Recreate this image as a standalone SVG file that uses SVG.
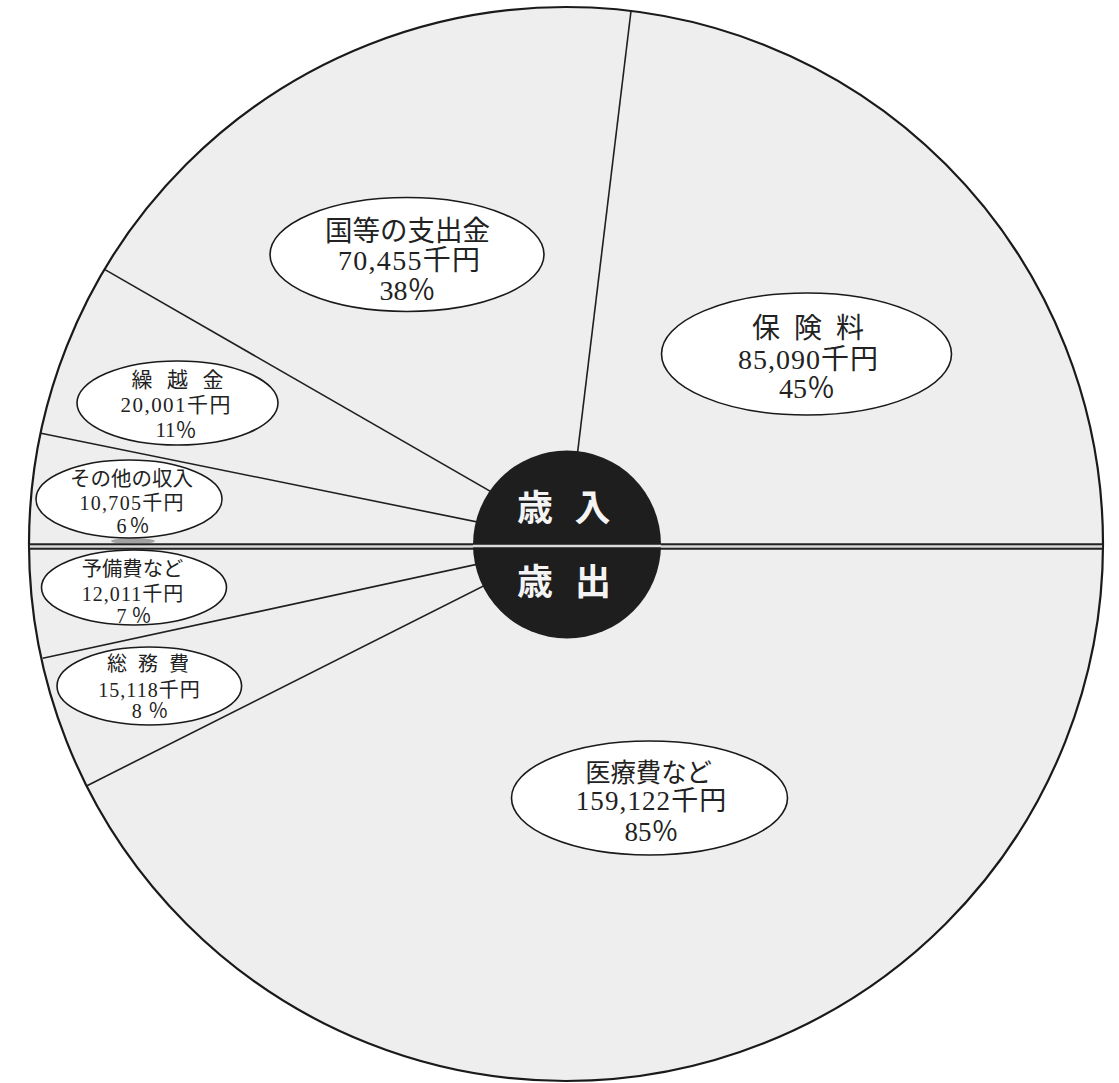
<svg xmlns="http://www.w3.org/2000/svg" width="1119" height="1083" viewBox="0 0 1119 1083">
<style>
.lbl{fill:#ffffff;stroke:#1a1a1a;stroke-width:1.6}
.t{font-family:"Liberation Serif","Noto Sans CJK JP",serif;fill:#222;text-anchor:middle}
.div{stroke:#1f1f1f;stroke-width:1.6;fill:none}
.w{font-family:"Noto Sans CJK JP","Noto Sans CJK SC",sans-serif;font-weight:700;fill:#f4f4f4;text-anchor:middle;font-size:36px}
</style>
<rect x="0" y="0" width="1119" height="1083" fill="#ffffff"/>
<g id="pie">
<circle cx="566" cy="544" r="537" fill="#eeeeee" stroke="#1a1a1a" stroke-width="2.2"/>
</g>
<g id="connectors">
<line class="div" x1="631" y1="11" x2="567" y2="540"/>
<line class="div" x1="105" y1="269.6" x2="520" y2="508.4"/>
<line class="div" x1="41" y1="433.2" x2="520" y2="530.7"/>
<line class="div" x1="42.7" y1="658.3" x2="520" y2="555"/>
<line class="div" x1="87" y1="785.7" x2="520" y2="567.6"/>
<line x1="29" y1="546.5" x2="1103" y2="546.5" stroke="#222" stroke-width="6.5"/>
<line x1="30" y1="546.5" x2="1102" y2="546.5" stroke="#d8d8d8" stroke-width="2.5"/>
<ellipse cx="133" cy="541" rx="22" ry="3" fill="#555" opacity="0.5"/>
</g>
<g id="center">
<circle cx="567" cy="544.5" r="94" fill="#1e1e1e"/>
<line x1="473" y1="546" x2="661" y2="546" stroke="#dcdcdc" stroke-width="2.5"/>
<text class="w" x="535 592.5" y="521">歳入</text>
<text class="w" x="535 593" y="595">歳出</text>
</g>
<g id="node-kokuto">
<ellipse class="lbl" cx="407" cy="254.5" rx="137" ry="57"/>
<text class="t" x="407.5" y="241" font-size="28" textLength="165" lengthAdjust="spacingAndGlyphs">国等の支出金</text>
<text class="t" x="409" y="270" font-size="28" textLength="142" lengthAdjust="spacing">70,455千円</text>
<text class="t" x="407.5" y="300" font-size="28">38％</text>
</g>
<g id="node-hokenryo">
<ellipse class="lbl" cx="806.5" cy="354" rx="145" ry="61"/>
<text class="t" x="766 808 850" y="338" font-size="28">保険料</text>
<text class="t" x="808" y="369" font-size="28" textLength="140" lengthAdjust="spacing">85,090千円</text>
<text class="t" x="807" y="398" font-size="28">45％</text>
</g>
<g id="node-kurikoshi">
<ellipse class="lbl" cx="177.5" cy="403" rx="100.5" ry="42"/>
<text class="t" x="142 177.5 213" y="387" font-size="21">繰越金</text>
<text class="t" x="175.5" y="411.5" font-size="21" textLength="110" lengthAdjust="spacing">20,001千円</text>
<text class="t" x="176" y="436.5" font-size="21">11％</text>
</g>
<g id="node-sonota">
<ellipse class="lbl" cx="129" cy="499" rx="93" ry="39"/>
<text class="t" x="131.5" y="485.5" font-size="20" textLength="123" lengthAdjust="spacingAndGlyphs">その他の収入</text>
<text class="t" x="131.5" y="510" font-size="20" textLength="104" lengthAdjust="spacing">10,705千円</text>
<text class="t" x="133" y="533.3" font-size="20" textLength="33" lengthAdjust="spacing">6％</text>
</g>
<g id="node-yobihi">
<ellipse class="lbl" cx="134" cy="587.5" rx="92.5" ry="37.5"/>
<text class="t" x="132.5" y="576" font-size="20" textLength="101.5" lengthAdjust="spacingAndGlyphs">予備費など</text>
<text class="t" x="132.5" y="601" font-size="20" textLength="101.5" lengthAdjust="spacing">12,011千円</text>
<text class="t" x="134" y="622.5" font-size="20" textLength="35" lengthAdjust="spacing">7％</text>
</g>
<g id="node-somuhi">
<ellipse class="lbl" cx="149.3" cy="686" rx="92.3" ry="39"/>
<text class="t" x="117 148 179" y="670.5" font-size="20">総務費</text>
<text class="t" x="149" y="696.5" font-size="20" textLength="101.7" lengthAdjust="spacing">15,118千円</text>
<text class="t" x="150" y="718.3" font-size="20" textLength="36.6" lengthAdjust="spacing">8％</text>
</g>
<g id="node-iryohi">
<ellipse class="lbl" cx="649.5" cy="798" rx="138" ry="57"/>
<text class="t" x="648.5" y="782" font-size="26" textLength="126.7" lengthAdjust="spacingAndGlyphs">医療費など</text>
<text class="t" x="651" y="810" font-size="27" textLength="150.7" lengthAdjust="spacing">159,122千円</text>
<text class="t" x="651.5" y="841" font-size="27">85％</text>
</g>
</svg>
